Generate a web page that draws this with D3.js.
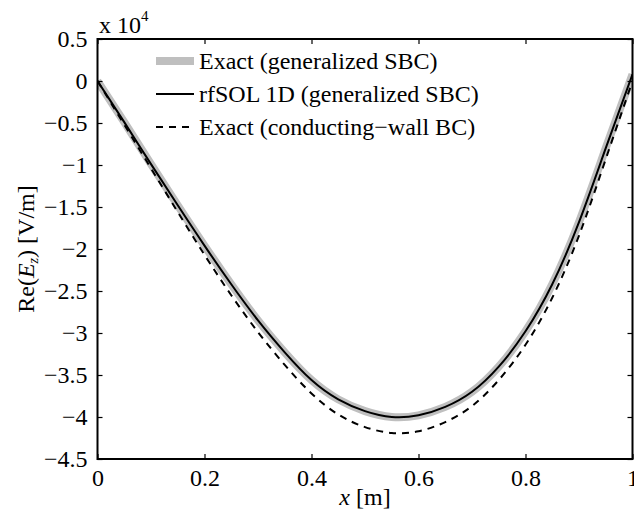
<!DOCTYPE html>
<html>
<head>
<meta charset="utf-8">
<script src="https://cdn.jsdelivr.net/npm/d3@7"></script>
<style>
  html, body { margin: 0; padding: 0; background: #fff; }
  svg { display: block; }
  text { font-family: "Liberation Serif", "Times New Roman", serif; fill: #000; }
</style>
</head>
<body>
<svg id="chart" width="634" height="523"></svg>
<script>
// ---- data (values in units of 1e4 V/m) ----
const xValues = [0, 0.05, 0.1, 0.15, 0.2, 0.25, 0.3, 0.35, 0.4, 0.45, 0.5, 0.55, 0.6, 0.65, 0.7, 0.75, 0.8, 0.85, 0.9, 0.95, 1.0];
const exactGeneralized = [0, -0.49, -0.99, -1.48, -1.96, -2.42, -2.85, -3.23, -3.56, -3.79, -3.93, -4.0, -3.98, -3.88, -3.70, -3.40, -2.98, -2.42, -1.68, -0.8, 0.08];
const rfsolGeneralized = [0, -0.49, -0.99, -1.48, -1.96, -2.42, -2.85, -3.23, -3.56, -3.79, -3.93, -4.0, -3.98, -3.88, -3.70, -3.40, -2.98, -2.42, -1.68, -0.8, 0.08];
const exactConducting = [0, -0.52, -1.04, -1.56, -2.07, -2.55, -2.99, -3.38, -3.72, -3.97, -4.12, -4.19, -4.17, -4.06, -3.87, -3.56, -3.14, -2.58, -1.84, -0.93, 0];
const xTicks = [0, 0.2, 0.4, 0.6, 0.8, 1];
const xTickLabels = ["0", "0.2", "0.4", "0.6", "0.8", "1"];
const yTicks = [0.5, 0, -0.5, -1, -1.5, -2, -2.5, -3, -3.5, -4, -4.5];
const yTickLabels = ["0.5", "0", "\u22120.5", "\u22121", "\u22121.5", "\u22122", "\u22122.5", "\u22123", "\u22123.5", "\u22124", "\u22124.5"];
const legendLabels = ["Exact (generalized SBC)", "rfSOL 1D (generalized SBC)", "Exact (conducting\u2212wall BC)"];

// ---- layout ----
const L = 97.5, R = 632.5, T = 39, B = 459;
const FS = 24;
const svg = d3.select("#chart");

const x = d3.scaleLinear().domain([0, 1]).range([L, R]);
const y = d3.scaleLinear().domain([-4.5, 0.5]).range([B, T]);

svg.append("defs").append("clipPath").attr("id", "clip")
  .append("rect").attr("x", L).attr("y", T).attr("width", R - L).attr("height", B - T);

const line = d3.line().x(d => x(d[0])).y(d => y(d[1])).curve(d3.curveNatural);
const toPts = arr => xValues.map((xv, i) => [xv, arr[i]]);

const plot = svg.append("g").attr("clip-path", "url(#clip)");
plot.append("path").attr("d", line(toPts(exactGeneralized)))
  .attr("fill", "none").attr("stroke", "#bfbfbf").attr("stroke-width", 8);
plot.append("path").attr("d", line(toPts(rfsolGeneralized)))
  .attr("fill", "none").attr("stroke", "#000").attr("stroke-width", 2);
plot.append("path").attr("d", line(toPts(exactConducting)))
  .attr("fill", "none").attr("stroke", "#000").attr("stroke-width", 2)
  .attr("stroke-dasharray", "7,6");

// ---- axes (box with inward ticks) ----
const tl = 5;
const axBottom = d3.axisBottom(x).tickValues(xTicks).tickSize(-tl).tickFormat((d, i) => xTickLabels[i]).tickPadding(10);
const axTop = d3.axisTop(x).tickValues(xTicks).tickSize(-tl).tickFormat("");
const axLeft = d3.axisLeft(y).tickValues(yTicks).tickSize(-tl).tickFormat((d, i) => yTickLabels[i]).tickPadding(10);
const axRight = d3.axisRight(y).tickValues(yTicks).tickSize(-tl).tickFormat("");

function style(g) {
  g.select(".domain").remove();
  g.selectAll(".tick line").attr("stroke", "#000").attr("stroke-width", 1.2);
  g.selectAll(".tick text").style("font-size", FS + "px").style("font-family", "'Liberation Serif','Times New Roman',serif").attr("fill", "#000");
}
svg.append("g").attr("transform", `translate(0,${B})`).call(axBottom).call(style);
svg.append("g").attr("transform", `translate(0,${T})`).call(axTop).call(style);
svg.append("g").attr("transform", `translate(${L},0)`).call(axLeft).call(style);
svg.append("g").attr("transform", `translate(${R},0)`).call(axRight).call(style);

svg.append("rect").attr("x", L).attr("y", T).attr("width", R - L).attr("height", B - T)
  .attr("fill", "none").attr("stroke", "#000").attr("stroke-width", 2);

// ---- axis labels ----
const xl = svg.append("text").attr("x", (L + R) / 2).attr("y", 505)
  .attr("text-anchor", "middle").style("font-size", FS + "px");
xl.append("tspan").attr("font-style", "italic").text("x");
xl.append("tspan").text(" [m]");

const yl = svg.append("text")
  .attr("transform", `translate(34,${(T + B) / 2}) rotate(-90)`)
  .attr("text-anchor", "middle").style("font-size", FS + "px");
yl.append("tspan").text("Re(");
yl.append("tspan").attr("font-style", "italic").text("E");
yl.append("tspan").attr("font-style", "italic").attr("dy", 4).style("font-size", "14px").text("z");
yl.append("tspan").attr("dy", -4).text(") [V/m]");

// exponent
const ex = svg.append("text").attr("x", 99).attr("y", 33).style("font-size", FS + "px");
ex.append("tspan").text("x 10");
ex.append("tspan").attr("dy", -12).style("font-size", "15px").text("4");

// ---- legend ----
const legRows = [61, 94, 127];
const legStyles = [
  {stroke: "#bfbfbf", width: 8, dash: null},
  {stroke: "#000", width: 2, dash: null},
  {stroke: "#000", width: 2, dash: "7,6"}
];
const lg = svg.append("g");
legendLabels.forEach((lab, i) => {
  const s = legStyles[i];
  const ln = lg.append("line").attr("x1", 156).attr("x2", 194).attr("y1", legRows[i]).attr("y2", legRows[i])
    .attr("stroke", s.stroke).attr("stroke-width", s.width);
  if (s.dash) ln.attr("stroke-dasharray", s.dash);
  lg.append("text").attr("x", 199).attr("y", legRows[i] + 8).style("font-size", FS + "px").text(lab);
});
</script>
</body>
</html>
